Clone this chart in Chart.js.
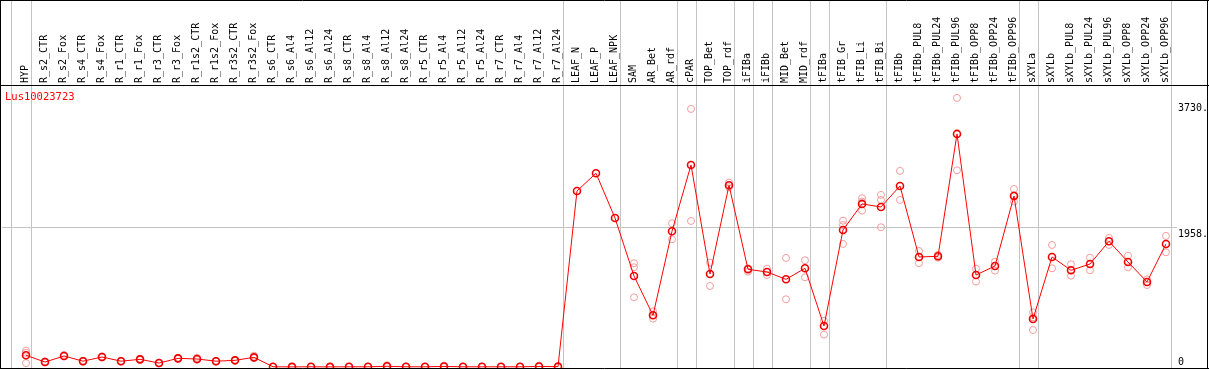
<!DOCTYPE html>
<html>
<head>
<meta charset="utf-8">
<script src="https://cdn.jsdelivr.net/npm/chart.js@4.4.1/dist/chart.umd.min.js"></script>
<style>
  html, body { margin: 0; padding: 0; background: #fff; }
  canvas { display: block; }
</style>
</head>
<body>
<canvas id="geneChart" width="1209" height="370"></canvas>
<script>
// categories (one per sample)
const categories = [
  "HYP",
  "R_s2_CTR", "R_s2_Fox", "R_s4_CTR", "R_s4_Fox", "R_r1_CTR", "R_r1_Fox", "R_r3_CTR", "R_r3_Fox",
  "R_r1s2_CTR", "R_r1s2_Fox", "R_r3s2_CTR", "R_r3s2_Fox",
  "R_s6_CTR", "R_s6_Al4", "R_s6_Al12", "R_s6_Al24", "R_s8_CTR", "R_s8_Al4", "R_s8_Al12", "R_s8_Al24",
  "R_r5_CTR", "R_r5_Al4", "R_r5_Al12", "R_r5_Al24", "R_r7_CTR", "R_r7_Al4", "R_r7_Al12", "R_r7_Al24",
  "LEAF_N", "LEAF_P", "LEAF_NPK",
  "SAM", "AR_Bet", "AR_rdf",
  "cPAR",
  "TOP_Bet", "TOP_rdf",
  "iFIBa",
  "iFIBb",
  "MID_Bet", "MID_rdf",
  "tFIBa",
  "tFIB_Gr", "tFIB_Li", "tFIB_Bi",
  "tFIBb", "tFIBb_PUL8", "tFIBb_PUL24", "tFIBb_PUL96", "tFIBb_OPP8", "tFIBb_OPP24", "tFIBb_OPP96",
  "sXYLa",
  "sXYLb", "sXYLb_PUL8", "sXYLb_PUL24", "sXYLb_PUL96", "sXYLb_OPP8", "sXYLb_OPP24", "sXYLb_OPP96"
];

// mean expression
const means = [
  165,
  70, 155, 82, 141, 82, 108, 56, 122,
  113, 82, 94, 136,
  3, 2, 3, 2, 3, 3, 10, 3,
  3, 8, 3, 3, 3, 3, 8, 5,
  2480, 2729, 2099,
  1282, 728, 1912,
  2846,
  1310, 2560,
  1376,
  1338,
  1235, 1390,
  578,
  1930, 2297, 2254,
  2550, 1550, 1559, 3283, 1296, 1423, 2409,
  676,
  1550, 1362, 1451, 1771, 1479, 1198, 1733
];

// single replicates
const replicates = [
  [230, 200, 55],
  [80, 65], [170, 150], [90, 75], [150, 135], [88, 76], [118, 100], [60, 50], [130, 115],
  [130, 100], [88, 76], [100, 88], [160, 125],
  [0, 5], [0, 4], [0, 5], [0, 4], [0, 5], [0, 5], [25, 0], [0, 5],
  [0, 5], [20, 0], [0, 5], [0, 5], [0, 5], [0, 5], [20, 0], [0, 8],
  [], [], [],
  [1461, 1405, 982], [785, 681, 728], [2025, 1799],
  [3635, 2057],
  [1470, 1141], [2597, 2532],
  [1343, 1390],
  [1385, 1296],
  [1536, 954], [1503, 1264],
  [652, 455],
  [2061, 2000, 1733], [2377, 2203, 2330], [2424, 2353, 1968],
  [2762, 2353], [1634, 1461], [1580, 1540], [3790, 2771], [1385, 1202], [1484, 1357], [2508, 2329, 2420],
  [771, 521, 700],
  [1719, 1390], [1447, 1286], [1540, 1362], [1818, 1719], [1568, 1405], [1235, 1155], [1846, 1616]
];

// last sample of each group (separator goes just right of it)
const groupEnds = [0, 28, 31, 34, 35, 37, 38, 39, 41, 42, 45, 52, 53, 60];

const geneName = "Lus10023723";
const yTicks = [0, 1958, 3730];
const yTickLabels = ["0", "1958.", "3730."];

const monoFont = "'DejaVu Sans Mono', 'Liberation Mono', monospace";

const meanPoints = means.map((v, i) => ({ x: i, y: v }));
const repPoints = [];
replicates.forEach((reps, i) => reps.forEach(v => repPoints.push({ x: i, y: v })));

// 프레임, 구분선, 라벨
const decorPlugin = {
  id: "decor",
  beforeDatasetsDraw(chart) {
    const ctx = chart.ctx;
    const xs = chart.scales.x;
    const area = chart.chartArea;
    ctx.save();
    ctx.strokeStyle = "#c4c4c4";
    ctx.lineWidth = 1;
    const seps = [-0.79].concat(groupEnds.map(i => i + 0.26));
    seps.forEach(v => {
      const px = Math.round(xs.getPixelForValue(v)) + 0.5;
      ctx.beginPath();
      ctx.moveTo(px, 0);
      ctx.lineTo(px, area.bottom);
      ctx.stroke();
    });
    ctx.restore();
  },
  afterDraw(chart) {
    const ctx = chart.ctx;
    const ys = chart.scales.y;
    const area = chart.chartArea;
    const W = chart.width;
    ctx.save();
    ctx.strokeStyle = "#000";
    ctx.lineWidth = 1;
    ctx.beginPath();
    ctx.moveTo(0, 0.5); ctx.lineTo(W, 0.5);
    ctx.moveTo(0, area.top + 0.5); ctx.lineTo(W, area.top + 0.5);
    ctx.moveTo(0, area.bottom + 0.5); ctx.lineTo(W, area.bottom + 0.5);
    ctx.moveTo(0.5, 0); ctx.lineTo(0.5, area.bottom + 1);
    ctx.moveTo(W - 1.5, 0); ctx.lineTo(W - 1.5, area.bottom + 1);
    ctx.stroke();

    // y labels on the right
    ctx.fillStyle = "#000";
    ctx.font = "10px " + monoFont;
    ctx.textAlign = "left";
    yTicks.forEach((v, i) => {
      const py = ys.getPixelForValue(v);
      ctx.textBaseline = i === 0 ? "bottom" : "top";
      ctx.fillText(yTickLabels[i], area.right + 6, i === 0 ? py : py + 1);
    });

    // gene name
    ctx.fillStyle = "#ff0000";
    ctx.font = "10.5px " + monoFont;
    ctx.textBaseline = "middle";
    ctx.fillText(geneName, 5, area.top + 12);
    ctx.restore();
  }
};

const ctx = document.getElementById("geneChart").getContext("2d");

new Chart(ctx, {
  type: "line",
  data: {
    datasets: [
      {
        label: "mean",
        data: meanPoints,
        borderColor: "#ff0000",
        borderWidth: 1,
        tension: 0,
        pointRadius: 3.5,
        pointBorderWidth: 1.6,
        pointBorderColor: "#ee0000",
        pointBackgroundColor: "rgba(0,0,0,0)",
        fill: false,
        clip: 0
      },
      {
        label: "replicates",
        data: repPoints,
        showLine: false,
        pointRadius: 3.5,
        pointBorderWidth: 1,
        pointBorderColor: "#f29c9c",
        pointBackgroundColor: "rgba(0,0,0,0)",
        clip: 0
      }
    ]
  },
  options: {
    responsive: false,
    animation: false,
    devicePixelRatio: 1,
    layout: { autoPadding: false, padding: { left: 2, right: 0, top: 0, bottom: 2 } },
    plugins: {
      legend: { display: false },
      tooltip: { enabled: false }
    },
    scales: {
      x: {
        type: "linear",
        position: "top",
        min: (2 - 26) / 19,
        max: (1172 - 26) / 19,
        grid: { display: false, drawTicks: false },
        border: { display: false },
        afterBuildTicks: s => { s.ticks = categories.map((_, i) => ({ value: i })); },
        afterFit: s => { s.height = 85; },
        ticks: {
          autoSkip: false,
          minRotation: 90,
          maxRotation: 90,
          padding: 2,
          labelOffset: 11,
          color: "#000",
          font: { family: monoFont, size: 10 },
          callback: v => categories[v]
        }
      },
      y: {
        type: "linear",
        position: "right",
        min: -14,
        max: 3972,
        border: { display: false },
        afterBuildTicks: s => { s.ticks = yTicks.map(v => ({ value: v })); },
        afterFit: s => { s.width = 37; },
        grid: {
          drawTicks: true,
          tickLength: 5,
          color: c => (c.tick && c.tick.value === 1958 ? "#c4c4c4" : "rgba(0,0,0,0)")
        },
        ticks: { display: false }
      }
    }
  },
  plugins: [decorPlugin]
});
</script>
</body>
</html>
